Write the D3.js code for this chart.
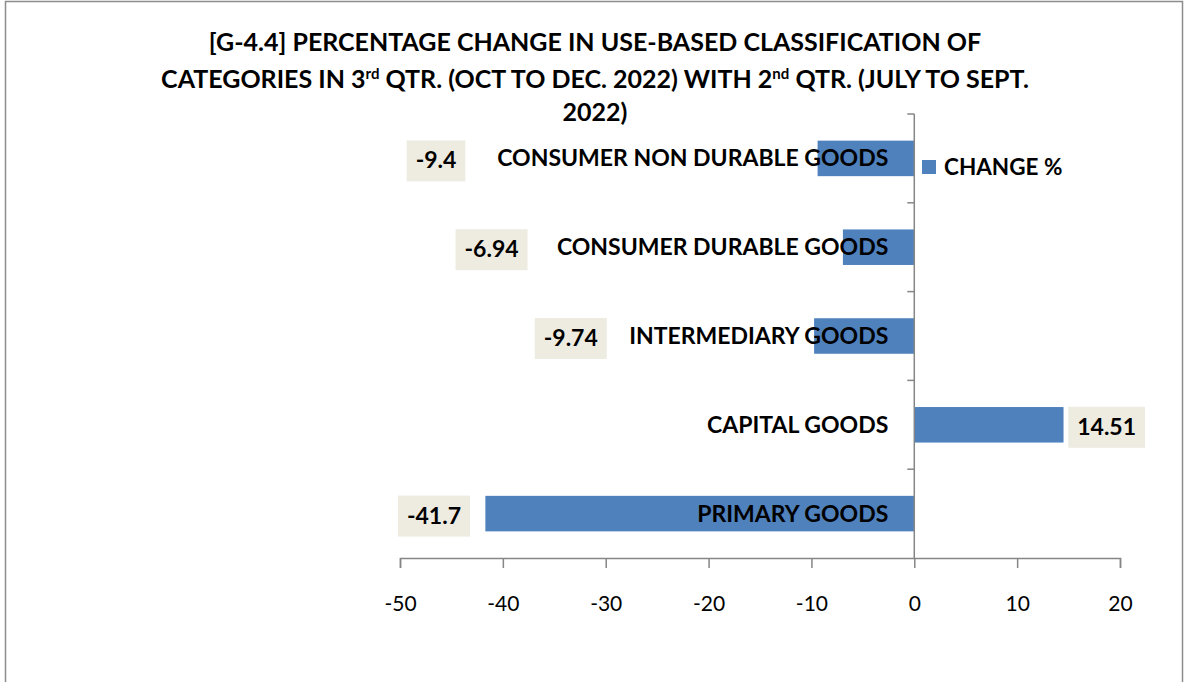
<!DOCTYPE html>
<html>
<head>
<meta charset="utf-8">
<script src="https://cdn.jsdelivr.net/npm/d3@7"></script>
<style>
  html, body { margin: 0; padding: 0; background: #ffffff; }
  svg { display: block; font-family: Lato, "Open Sans", sans-serif; }
</style>
</head>
<body>
<svg id="chart" width="1185" height="682"></svg>
<script>
// data, top to bottom as drawn
const categories = [
  "CONSUMER NON DURABLE GOODS",
  "CONSUMER DURABLE GOODS",
  "INTERMEDIARY GOODS",
  "CAPITAL GOODS",
  "PRIMARY GOODS"
];
const changePct = [-9.4, -6.94, -9.74, 14.51, -41.7];
const valueLabels = ["-9.4", "-6.94", "-9.74", "14.51", "-41.7"];
// where each data label box sits, in axis units (moved by hand in the original)
const labelAt = [-46.5, -41.1, -33.4, 18.7, -46.7];
const xTicks = [-50, -40, -30, -20, -10, 0, 10, 20];
const seriesName = "CHANGE %";

const BAR = "#4f81bd";
const AXIS = "#868686";
const LABEL_BG = "#eeece1";

const svg = d3.select("#chart");

// outer chart border
svg.append("rect")
  .attr("x", 5.5).attr("y", 1.5)
  .attr("width", 1177).attr("height", 690)
  .attr("fill", "none")
  .attr("stroke", "#8c8c8c")
  .attr("stroke-width", 1.5);

// title
const title = svg.append("text")
  .attr("text-anchor", "middle")
  .attr("font-weight", "bold")
  .attr("font-size", 25)
  .attr("fill", "#000");
title.append("tspan").attr("x", 595).attr("y", 51)
  .text("[G-4.4] PERCENTAGE CHANGE IN USE-BASED CLASSIFICATION OF");
const t2 = title.append("tspan").attr("x", 595).attr("y", 88);
t2.append("tspan").text("CATEGORIES IN 3");
t2.append("tspan").attr("font-size", 15).attr("dy", -9).text("rd");
t2.append("tspan").attr("dy", 9).text(" QTR. (OCT TO DEC. 2022) WITH 2");
t2.append("tspan").attr("font-size", 15).attr("dy", -9).text("nd");
t2.append("tspan").attr("dy", 9).text(" QTR. (JULY TO SEPT.");
title.append("tspan").attr("x", 595).attr("y", 121).text("2022)");

// scales
const x = d3.scaleLinear().domain([-50, 20]).range([400, 1120]);
const y = d3.scaleBand().domain(categories).range([114, 558])
  .paddingInner(0.6).paddingOuter(0.3);

// bars
svg.append("g").selectAll("rect")
  .data(categories)
  .join("rect")
  .attr("x", (d, i) => x(Math.min(0, changePct[i])))
  .attr("y", d => y(d))
  .attr("width", (d, i) => Math.abs(x(changePct[i]) - x(0)))
  .attr("height", y.bandwidth())
  .attr("fill", BAR);

// x axis
const xAxis = svg.append("g")
  .attr("transform", "translate(0,558)")
  .call(d3.axisBottom(x).tickValues(xTicks).tickFormat(d => String(d))
    .tickSize(10).tickPadding(28));
xAxis.select(".domain").attr("stroke", AXIS).attr("stroke-width", 1.5);
xAxis.selectAll(".tick line").attr("stroke", AXIS).attr("stroke-width", 1.5);
xAxis.selectAll(".tick text")
  .attr("font-size", 21)
  .attr("font-family", "Lato, sans-serif")
  .attr("fill", "#000");

// y axis at zero: ticks at band boundaries
const step = y.step();
const bounds = d3.range(categories.length + 1).map(i => 114 + i * step);
const yAxis = svg.append("g");
yAxis.append("line")
  .attr("x1", x(0)).attr("x2", x(0))
  .attr("y1", bounds[0]).attr("y2", bounds[bounds.length - 1])
  .attr("stroke", AXIS).attr("stroke-width", 1.5);
yAxis.selectAll("line.tk")
  .data(bounds.slice(0, -1))
  .join("line")
  .attr("class", "tk")
  .attr("x1", x(0) - 7).attr("x2", x(0))
  .attr("y1", d => d).attr("y2", d => d)
  .attr("stroke", AXIS).attr("stroke-width", 1.5);

// category labels, right aligned just left of the axis
svg.append("g").selectAll("text")
  .data(categories)
  .join("text")
  .attr("x", x(0) - 26)
  .attr("y", d => y(d) + y.bandwidth() / 2)
  .attr("dy", "0.35em")
  .attr("text-anchor", "end")
  .attr("font-weight", "bold")
  .attr("font-size", 23)
  .attr("fill", "#000")
  .text(d => d);

// data labels in tan boxes
const dl = svg.append("g").selectAll("g")
  .data(categories)
  .join("g")
  .attr("transform", (d, i) =>
    `translate(${x(labelAt[i])},${y(d) + y.bandwidth() / 2 + 2})`);
dl.append("text")
  .attr("text-anchor", "middle")
  .attr("dy", "0.35em")
  .attr("font-weight", "bold")
  .attr("font-size", 23)
  .attr("fill", "#000")
  .text((d, i) => valueLabels[i]);
dl.each(function () {
  const g = d3.select(this);
  const bb = g.select("text").node().getBBox();
  g.insert("rect", "text")
    .attr("x", bb.x - 9).attr("y", -20)
    .attr("width", bb.width + 18).attr("height", 41)
    .attr("fill", LABEL_BG);
});

// legend
const lg = svg.append("g").attr("transform", "translate(922,160)");
lg.append("rect").attr("width", 14).attr("height", 14).attr("fill", BAR);
lg.append("text")
  .attr("x", 22).attr("y", 7).attr("dy", "0.35em")
  .attr("font-weight", "bold").attr("font-size", 22.5)
  .attr("fill", "#000")
  .text(seriesName);
</script>
</body>
</html>
